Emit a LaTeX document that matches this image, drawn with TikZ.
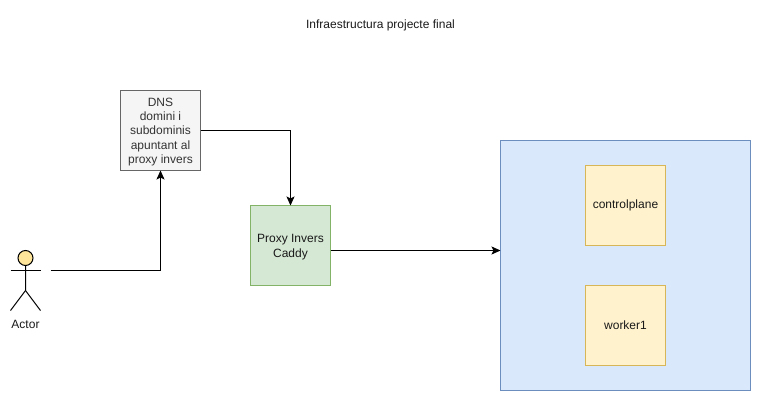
\documentclass[tikz,border=0pt]{standalone}
\usepackage{fontspec}
\setmainfont{Liberation Sans}
\usetikzlibrary{arrows.meta}
\definecolor{dnsfill}{HTML}{F5F5F5}
\definecolor{dnsline}{HTML}{666666}
\definecolor{dnstext}{HTML}{333333}
\definecolor{proxyfill}{HTML}{D5E8D4}
\definecolor{proxyline}{HTML}{82B366}
\definecolor{clusterfill}{HTML}{DAE8FC}
\definecolor{clusterline}{HTML}{6C8EBF}
\definecolor{vmfill}{HTML}{FFF2CC}
\definecolor{vmline}{HTML}{D6B656}
\definecolor{headfill}{HTML}{FFE599}
\tikzset{
  boxtext/.style={inner sep=0pt,outer sep=0pt,align=center,font=\fontsize{12}{14.3}\selectfont,text=black!90},
  box/.style={boxtext,draw,line width=1pt,minimum width=80pt,minimum height=80pt},
  link/.style={line width=1pt,-{Stealth[length=9pt,width=8pt,inset=2pt]}},
  stick/.style={line width=1pt}
}
\begin{document}
\begin{tikzpicture}[x=1pt,y=-1pt]
\useasboundingbox (0,0) rectangle (761,401);
\node (title) at (380.5,25) [boxtext] {Infraestructura projecte final};
% boxes
\node (dns) at (160.5,130.5) [box,fill=dnsfill,draw=dnsline] {};
\node (dnslabel) at (160.5,132) [boxtext,text=dnstext] {DNS\\domini i\\subdominis\\apuntant al\\proxy invers};
\node (proxy) at (290.5,245.5) [box,fill=proxyfill,draw=proxyline] {};
\node (proxylabel) at (290.5,247) [boxtext] {Proxy Invers\\Caddy};
\node (cluster) at (625.5,265.5) [box,minimum width=250pt,minimum height=250pt,fill=clusterfill,draw=clusterline] {};
\node (controlplane) at (625.5,205.5) [box,fill=vmfill,draw=vmline] {};
\node (controllabel) at (625.5,205.5) [boxtext] {controlplane};
\node (worker1) at (625.5,325.5) [box,fill=vmfill,draw=vmline] {};
\node (workerlabel) at (625.5,325.5) [boxtext] {worker1};
% actor
\node (head) at (25.5,258) [circle,draw,line width=1pt,fill=headfill,minimum size=15pt,inner sep=0pt,outer sep=0pt] {};
\coordinate (hip) at (25.5,290.5);
\coordinate (actorout) at (50.5,270.5);
\draw[stick] (head.south) -- (hip) -- (10.5,310.5);
\draw[stick] (hip) -- (40.5,310.5);
\draw[stick] (10.5,270.5) -- (40.5,270.5);
\node (actor) at (25.5,324) [boxtext] {Actor};
% connectors
\draw[link] (actorout) -| (dns.south);
\draw[link] (dns.east) -| (proxy.north);
\draw[link] ([yshift=-5pt]proxy.east) -- ([yshift=-5pt]proxy.east -| cluster.west);
\end{tikzpicture}
\end{document}
